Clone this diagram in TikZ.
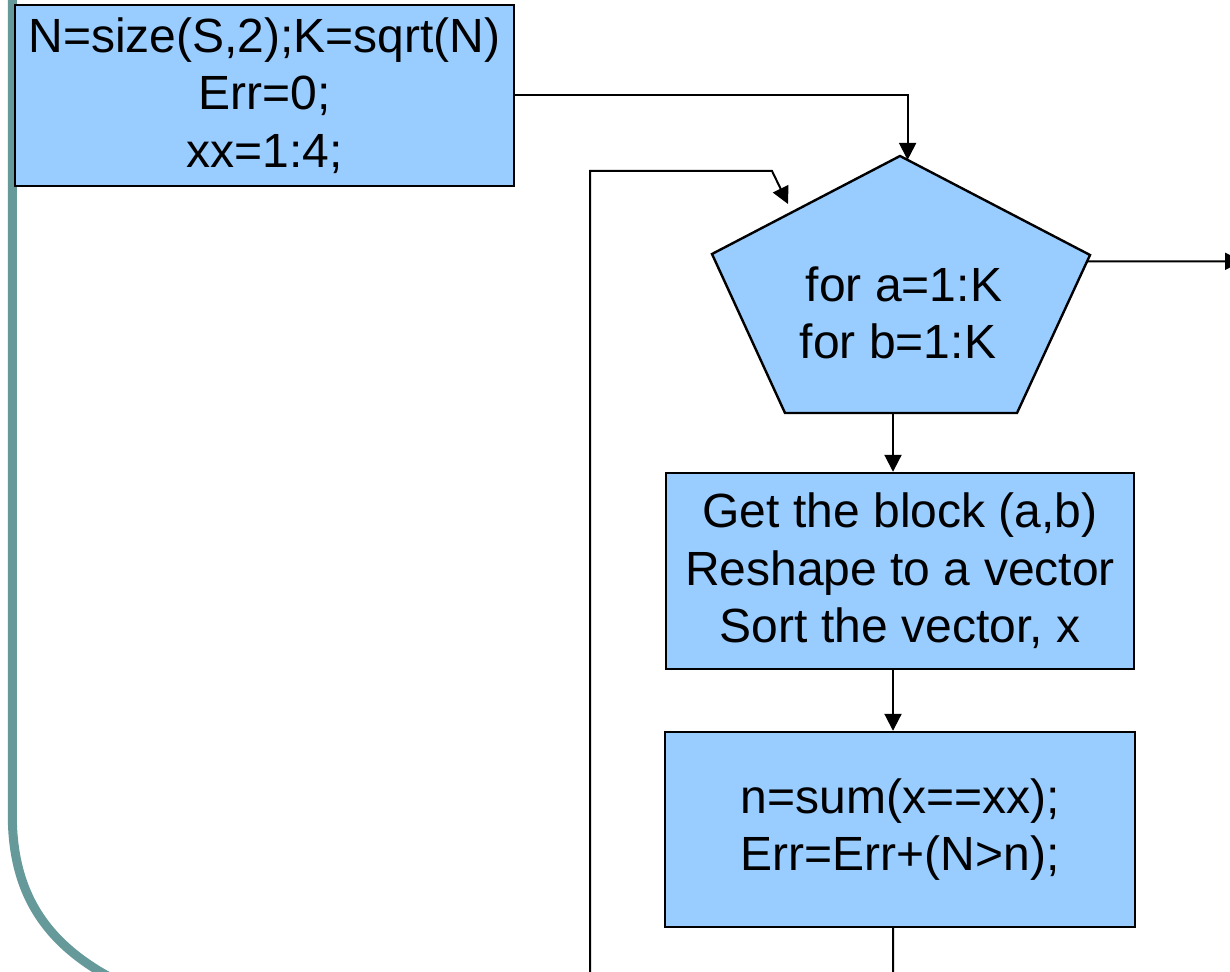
\documentclass[tikz,border=0pt]{standalone}
\usepackage{fontspec}
\setmainfont{Liberation Sans}
\usetikzlibrary{arrows.meta,calc}
\definecolor{boxfill}{RGB}{153,204,255}
\definecolor{framegreen}{RGB}{102,153,153}
\begin{document}
\begin{tikzpicture}[x=0.5pt,y=-0.5pt,
  txt/.style={font=\fontsize{24pt}{28.7pt}\selectfont, align=center, inner sep=0pt},
  procbox/.style={draw=black, line width=1.2pt, fill=boxfill, txt},
  conn/.style={line width=1pt, line join=miter, -{Triangle[length=8.5pt,width=8.5pt]}},
  shapeline/.style={draw=black, line width=1.2pt, fill=boxfill, line join=miter}]
\useasboundingbox (0,0) rectangle (1230,972);
\clip (0,0) rectangle (1230,972);

% decorative frame line on the left
\draw[framegreen, line width=4.5pt]
  (12.3,-10) -- (12.3,815) .. controls (12.3,900) and (52,950) .. (125,985);

% initialisation block
\node[procbox, minimum width=249.5pt, minimum height=90.5pt] (init) at (264.5,95.5)
  {N=size(S,2);K=sqrt(N)\\Err=0;\\xx=1:4;};

% loop header (pentagon)
\coordinate (pT)  at (900,156);
\coordinate (pR)  at (1090,255);
\coordinate (pBR) at (1017,413);
\coordinate (pBL) at (785,413);
\coordinate (pL)  at (712,254);
\path[shapeline] (pT) -- (pR) -- (pBR) -- (pBL) -- (pL) -- cycle;
\node[txt] (loop) at (898,313) {\hspace*{6pt}for a=1:K\\for b=1:K};

% body blocks
\node[procbox, minimum width=234pt, minimum height=98pt] (block) at (900,571)
  {Get the block (a,b)\\Reshape to a vector\\Sort the vector, x};
\node[procbox, minimum width=235pt, minimum height=97.5pt] (count) at (900,829.5)
  {n=sum(x==xx);\\Err=Err+(N>n);};

% helper coordinates for the connectors
\coordinate (spine)    at (893,0);
\coordinate (entry)    at ($(pT)!0.04!(pR)$);
\coordinate (exit)     at ($(pR)!0.04!(pBR)$);
\coordinate (exitEnd)  at (1242,261.3);
\coordinate (backLow)  at (590,990);
\coordinate (backTop)  at (590,171);
\coordinate (backKnee) at (772,171);
\coordinate (backTip)  at (788,204);

% connectors
\draw[conn] (init.east) -| (entry);
\draw[conn] (exit) -- (exitEnd);
\draw[conn] (pBL -| spine) -- (block.north -| spine);
\draw[conn] (block.south -| spine) -- (count.north -| spine);
\draw[conn] (count.south -| spine) |- (backLow) -- (backTop) -- (backKnee) -- (backTip);
\end{tikzpicture}
\end{document}
